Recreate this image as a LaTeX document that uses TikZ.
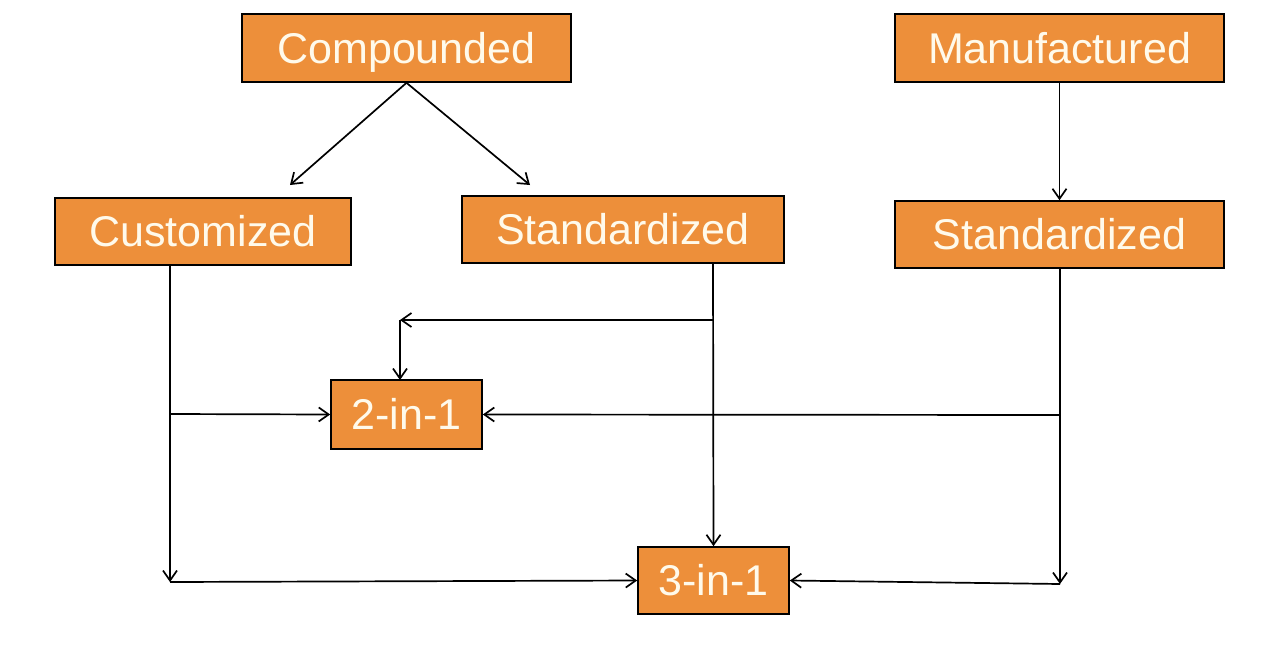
\documentclass[tikz,border=0pt]{standalone}
\usepackage{fontspec}
\setmainfont{Liberation Sans}
\usetikzlibrary{arrows.meta,calc}
\definecolor{boxorange}{RGB}{237,143,58}
\definecolor{boxtext}{RGB}{255,250,235}
\begin{document}
\begin{tikzpicture}[x=1pt,y=-1pt,
  box/.style={draw=black,line width=1.6pt,fill=boxorange,text=boxtext,
    inner sep=0pt,text height=39pt,text depth=8.5pt,font=\fontsize{43}{50}\selectfont},
  conn/.style={draw=black,line width=1.7pt},
  arr/.style={conn,-{Straight Barb[length=10pt,width=14pt,line width=1.7pt]}}]
\useasboundingbox (0,0) rectangle (1275,659);
\node[box,minimum width=329pt,minimum height=68pt] (comp) at (406.5,48) {Compounded};
\node[box,minimum width=329pt,minimum height=68pt] (manu) at (1059.5,48) {Manufactured};
\node[box,minimum width=296pt,minimum height=67pt] (cust) at (203,231.5) {Customized};
\node[box,minimum width=322pt,minimum height=67pt] (stdm) at (623,229.5) {Standardized};
\node[box,minimum width=329pt,minimum height=67pt] (stdr) at (1059.5,234.5) {Standardized};
\node[box,minimum width=151pt,minimum height=69pt] (two) at (406.5,414.5) {2-in-1};
\node[box,minimum width=151pt,minimum height=67pt] (three) at (713.5,580.5) {3-in-1};
% free ends and bends
\coordinate (ca) at (290,185);
\coordinate (cb) at (530,185);
\coordinate (cutop) at (170,265);
\coordinate (cubot) at (170,582);
\coordinate (cumid) at (170,414);
\coordinate (smtop) at (713,263);
\coordinate (smbr) at (713,320);
\coordinate (smbend) at (400,320);
\coordinate (twotop) at (400,380);
\coordinate (srtop) at (1060,268);
\coordinate (srbot) at (1060,584);
\coordinate (srmid) at (1060,415);
\draw[arr] (comp.south) -- (ca);
\draw[arr] (comp.south) -- (cb);
\draw[arr] (manu.south) -- (stdr.north);
\draw[arr] (cutop) -- (cubot);
\draw[arr] (cubot) -- (three.west);
\draw[arr] (cumid) -- (two.west);
\draw[arr] (smtop) -- (three.north);
\draw[arr] (smbr) -- (smbend);
\draw[arr] (smbend) -- (twotop);
\draw[arr] (srtop) -- (srbot);
\draw[arr] (srbot) -- (three.east);
\draw[arr] (srmid) -- (two.east);
\end{tikzpicture}
\end{document}
